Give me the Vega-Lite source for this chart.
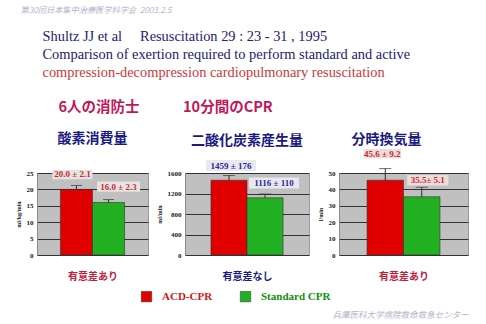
{
  "$schema": "https://vega.github.io/schema/vega-lite/v6.json",
  "padding": {"left": 14, "top": 6, "right": 0, "bottom": 0},
  "background": "white",
  "config": {
    "view": {"fill": "#c0c0c0", "stroke": "#9a9a9a", "strokeWidth": 1},
    "axisY": {"grid": true, "gridColor": "#333333", "gridWidth": 1, "gridOpacity": 1, "ticks": false, "domain": true, "domainColor": "#8a8a8a", "labelFont": "Liberation Serif", "labelFontWeight": "bold", "labelFontSize": 7, "labelColor": "#202020", "labelPadding": 4, "labelOverlap": false, "labelFlush": false, "tickCount": 10, "titleFont": "Liberation Serif", "titleFontWeight": "bold", "titleFontSize": 6, "titleColor": "#202020", "titlePadding": 5},
    "axisX": {"labels": false, "ticks": false, "domain": false, "grid": false, "titleFont": "Noto Sans CJK JP", "titleFontWeight": "bold", "titleFontSize": 10, "titlePadding": 16},
    "title": {"font": "Noto Sans CJK JP", "fontWeight": "bold", "fontSize": 14, "color": "#1a1a80"},
    "concat": {"spacing": 6}
  },
  "title": {"text": "第30回日本集中治療医学科学会\u00a0\u00a02003.2.5", "anchor": "start", "fontSize": 8.2, "fontWeight": "normal", "fontStyle": "italic", "color": "#b4b4cc", "dx": 6, "offset": 14},
  "vconcat": [
    {
      "title": {"text": "兵庫医科大学病院救命救急センター", "orient": "bottom", "anchor": "end", "fontSize": 8.5, "fontWeight": "normal", "fontStyle": "italic", "color": "#b4b4cc", "offset": 29, "dx": 0},
      "vconcat": [
        {
          "title": {"text": ["Shultz JJ et al\u00a0\u00a0\u00a0\u00a0\u00a0Resuscitation 29 : 23 - 31 , 1995", "Comparison of exertion required to perform standard and active"], "subtitle": "compression-decompression cardiopulmonary resuscitation", "anchor": "start", "font": "Liberation Serif", "fontWeight": "normal", "fontSize": 14.4, "lineHeight": 18, "color": "#1e2070", "subtitleFont": "Liberation Serif", "subtitleFontSize": 14.4, "subtitleColor": "#c83a3a", "subtitlePadding": 3, "dx": 28, "offset": 20},
          "vconcat": [
            {
              "title": {"text": "6人の消防士　　　10分間のCPR", "anchor": "start", "fontSize": 14.5, "color": "#c0185a", "dx": 44, "offset": 16},
              "hconcat": [
                {
                  "width": 111, "height": 82,
                  "title": {"text": "酸素消費量", "frame": "group", "offset": 23},
                  "data": {"values": [
                    {"method": "ACD-CPR", "mean": 20.0, "upper": 21.2, "label": "20.0 ± 2.1"},
                    {"method": "Standard CPR", "mean": 16.0, "upper": 16.9, "label": "16.0 ± 2.3"}
                  ]},
                  "encoding": {"x": {"field": "method", "type": "nominal", "sort": ["ACD-CPR", "Standard CPR"], "scale": {"paddingInner": 0, "paddingOuter": 0.73}, "axis": {"title": "有意差あり", "titleColor": "#c0203c"}}},
                  "layer": [
                    {"mark": {"type": "bar", "stroke": "#303030", "strokeWidth": 0.6}, "encoding": {"y": {"field": "mean", "type": "quantitative", "scale": {"domain": [0, 25], "nice": false}, "axis": {"values": [0, 5, 10, 15, 20, 25], "tickCount": 10, "labelOverlap": false, "title": "ml/kg/min"}}, "color": {"field": "method", "type": "nominal", "scale": {"domain": ["ACD-CPR", "Standard CPR"], "range": ["#e00000", "#22b022"]}, "legend": {"orient": "none", "legendX": 104, "legendY": 118, "direction": "horizontal", "title": null, "symbolType": "square", "symbolSize": 110, "symbolStrokeColor": "#303030", "symbolStrokeWidth": 0.5, "symbolOpacity": 1, "labelFont": "Liberation Serif", "labelFontWeight": "bold", "labelFontSize": 11, "labelOffset": 10, "columnPadding": 26, "encode": {"labels": {"update": {"fill": {"signal": "datum.value === 'ACD-CPR' ? '#d01818' : '#109010'"}}}}}}}},
                    {"mark": {"type": "rule", "color": "#303030", "strokeWidth": 1}, "encoding": {"y": {"field": "mean", "type": "quantitative"}, "y2": {"field": "upper"}}},
                    {"mark": {"type": "tick", "color": "#303030", "thickness": 1, "size": 11}, "encoding": {"y": {"field": "upper", "type": "quantitative"}}},
                    {"transform": [{"filter": "datum.method === 'ACD-CPR'"}], "mark": {"type": "point", "shape": "M-1,-0.24H1V0.24H-1Z", "filled": true, "color": "#e4e4e4", "opacity": 1, "size": 1600, "xOffset": -4, "yOffset": -11}, "encoding": {"y": {"field": "upper", "type": "quantitative"}}},
                    {"transform": [{"filter": "datum.method === 'ACD-CPR'"}], "mark": {"type": "text", "font": "Liberation Serif", "fontWeight": "bold", "fontSize": 9, "color": "#d02828", "xOffset": -4, "yOffset": -11}, "encoding": {"y": {"field": "upper", "type": "quantitative"}, "text": {"field": "label"}}},
                    {"transform": [{"filter": "datum.method === 'Standard CPR'"}], "mark": {"type": "point", "shape": "M-1,-0.24H1V0.24H-1Z", "filled": true, "color": "#e4e4e4", "opacity": 1, "size": 1850, "xOffset": 10, "yOffset": -13}, "encoding": {"y": {"field": "upper", "type": "quantitative"}}},
                    {"transform": [{"filter": "datum.method === 'Standard CPR'"}], "mark": {"type": "text", "font": "Liberation Serif", "fontWeight": "bold", "fontSize": 9, "color": "#d02828", "xOffset": 10, "yOffset": -13}, "encoding": {"y": {"field": "upper", "type": "quantitative"}, "text": {"field": "label"}}}
                  ]
                },
                {
                  "width": 124, "height": 82,
                  "title": {"text": "二酸化炭素産生量", "frame": "group", "offset": 12},
                  "data": {"values": [
                    {"method": "ACD-CPR", "mean": 1459, "upper": 1550, "label": "1459 ± 176"},
                    {"method": "Standard CPR", "mean": 1116, "upper": 1190, "label": "1116 ± 110"}
                  ]},
                  "encoding": {"x": {"field": "method", "type": "nominal", "sort": ["ACD-CPR", "Standard CPR"], "scale": {"paddingInner": 0, "paddingOuter": 0.72}, "axis": {"title": "有意差なし", "titleColor": "#1a1a80"}}},
                  "layer": [
                    {"mark": {"type": "bar", "stroke": "#303030", "strokeWidth": 0.6}, "encoding": {"y": {"field": "mean", "type": "quantitative", "scale": {"domain": [0, 1600], "nice": false}, "axis": {"values": [0, 400, 800, 1200, 1600], "tickCount": 10, "format": "d", "labelOverlap": false, "title": "ml/min"}}, "color": {"field": "method", "type": "nominal"}}},
                    {"mark": {"type": "rule", "color": "#303030", "strokeWidth": 1}, "encoding": {"y": {"field": "mean", "type": "quantitative"}, "y2": {"field": "upper"}}},
                    {"mark": {"type": "tick", "color": "#303030", "thickness": 1, "size": 12}, "encoding": {"y": {"field": "upper", "type": "quantitative"}}},
                    {"transform": [{"filter": "datum.method === 'ACD-CPR'"}], "mark": {"type": "point", "shape": "M-1,-0.22H1V0.22H-1Z", "filled": true, "color": "#e8e8ee", "opacity": 1, "size": 2500, "xOffset": 2, "yOffset": -10}, "encoding": {"y": {"field": "upper", "type": "quantitative"}}},
                    {"transform": [{"filter": "datum.method === 'ACD-CPR'"}], "mark": {"type": "text", "font": "Liberation Serif", "fontWeight": "bold", "fontSize": 9, "color": "#2a2a9a", "xOffset": 2, "yOffset": -10}, "encoding": {"y": {"field": "upper", "type": "quantitative"}, "text": {"field": "label"}}},
                    {"transform": [{"filter": "datum.method === 'Standard CPR'"}], "mark": {"type": "point", "shape": "M-1,-0.22H1V0.22H-1Z", "filled": true, "color": "#e8e8ee", "opacity": 1, "size": 2500, "xOffset": 9, "yOffset": -11}, "encoding": {"y": {"field": "upper", "type": "quantitative"}}},
                    {"transform": [{"filter": "datum.method === 'Standard CPR'"}], "mark": {"type": "text", "font": "Liberation Serif", "fontWeight": "bold", "fontSize": 9, "color": "#2a2a9a", "xOffset": 9, "yOffset": -11}, "encoding": {"y": {"field": "upper", "type": "quantitative"}, "text": {"field": "label"}}}
                  ]
                },
                {
                  "width": 129, "height": 82,
                  "title": {"text": "分時換気量", "frame": "group", "offset": 2, "dx": -17},
                  "data": {"values": [
                    {"method": "ACD-CPR", "mean": 45.6, "upper": 52.7, "label": "45.6 ± 9.2"},
                    {"method": "Standard CPR", "mean": 35.5, "upper": 41.3, "label": "35.5± 5.1"}
                  ]},
                  "encoding": {"x": {"field": "method", "type": "nominal", "sort": ["ACD-CPR", "Standard CPR"], "scale": {"paddingInner": 0, "paddingOuter": 0.77}, "axis": {"title": "有意差あり", "titleColor": "#c0203c"}}},
                  "layer": [
                    {"mark": {"type": "bar", "stroke": "#303030", "strokeWidth": 0.6}, "encoding": {"y": {"field": "mean", "type": "quantitative", "scale": {"domain": [0, 50], "nice": false}, "axis": {"values": [0, 10, 20, 30, 40, 50], "tickCount": 10, "labelOverlap": false, "title": "l/min"}}, "color": {"field": "method", "type": "nominal"}}},
                    {"mark": {"type": "rule", "color": "#303030", "strokeWidth": 1}, "encoding": {"y": {"field": "mean", "type": "quantitative"}, "y2": {"field": "upper"}}},
                    {"mark": {"type": "tick", "color": "#303030", "thickness": 1, "size": 12}, "encoding": {"y": {"field": "upper", "type": "quantitative"}}},
                    {"transform": [{"filter": "datum.method === 'ACD-CPR'"}], "mark": {"type": "point", "shape": "M-1,-0.25H1V0.25H-1Z", "filled": true, "color": "#ecdcdc", "opacity": 1, "size": 1400, "xOffset": -3, "yOffset": -15}, "encoding": {"y": {"field": "upper", "type": "quantitative"}}},
                    {"transform": [{"filter": "datum.method === 'ACD-CPR'"}], "mark": {"type": "text", "font": "Liberation Serif", "fontWeight": "bold", "fontSize": 9, "color": "#d02828", "xOffset": -3, "yOffset": -15}, "encoding": {"y": {"field": "upper", "type": "quantitative"}, "text": {"field": "label"}}},
                    {"transform": [{"filter": "datum.method === 'Standard CPR'"}], "mark": {"type": "point", "shape": "M-1,-0.25H1V0.25H-1Z", "filled": true, "color": "#ecdcdc", "opacity": 1, "size": 1700, "xOffset": 6, "yOffset": -7}, "encoding": {"y": {"field": "upper", "type": "quantitative"}}},
                    {"transform": [{"filter": "datum.method === 'Standard CPR'"}], "mark": {"type": "text", "font": "Liberation Serif", "fontWeight": "bold", "fontSize": 9, "color": "#d02828", "xOffset": 6, "yOffset": -7}, "encoding": {"y": {"field": "upper", "type": "quantitative"}, "text": {"field": "label"}}}
                  ]
                }
              ]
            }
          ]
        }
      ]
    }
  ]
}
